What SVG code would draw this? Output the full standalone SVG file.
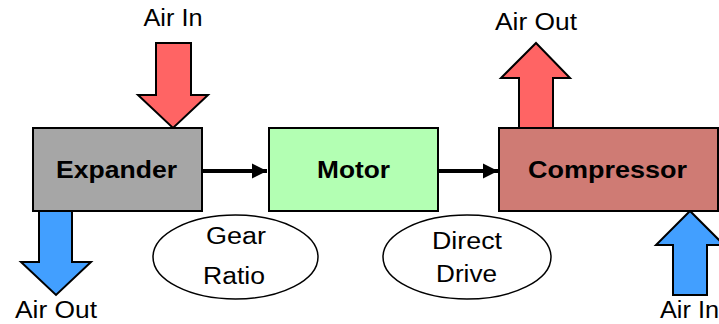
<svg xmlns="http://www.w3.org/2000/svg" width="719" height="324" viewBox="0 0 719 324">
<style>
.box{stroke:#000;stroke-width:2}
.flow{stroke:#000;stroke-width:2;stroke-linejoin:miter}
.hot{fill:#FF6464}
.cold{fill:#429FFF}
.lbl{font-family:"Liberation Sans",Arial,sans-serif;font-size:23.5px;fill:#000}
.bold{font-family:"Liberation Sans",Arial,sans-serif;font-size:24.5px;font-weight:bold;fill:#000}
.oval{fill:#fff;stroke:#000;stroke-width:1.5}
.conn{stroke:#000;stroke-width:4;fill:none}
</style>
<defs>
<marker id="ah" markerUnits="userSpaceOnUse" markerWidth="16" markerHeight="16" refX="15" refY="8" orient="auto">
<path d="M0,0.5 L15,8 L0,15.5 Z" fill="#000"/>
</marker>
</defs>
<rect width="719" height="324" fill="#fff"/>
<g id="connectors">
<line class="conn" x1="203" y1="171" x2="267" y2="171" marker-end="url(#ah)"/>
<line class="conn" x1="439" y1="171" x2="498" y2="171" marker-end="url(#ah)"/>
</g>
<g id="air-in-expander">
<polygon class="flow hot" points="156,43 191,43 191,95 208,95 173,128 138,95 156,95"/>
<text class="lbl" x="173" y="26" text-anchor="middle" textLength="59" lengthAdjust="spacingAndGlyphs">Air In</text>
</g>
<g id="air-out-expander">
<polygon class="flow cold" points="39,211 72,211 72,262 91,262 56,295 21,262 39,262"/>
<text class="lbl" x="56" y="318" text-anchor="middle" textLength="82" lengthAdjust="spacingAndGlyphs">Air Out</text>
</g>
<g id="air-out-compressor">
<polygon class="flow hot" points="519,128 553,128 553,78 570,78 536,43 501,78 519,78"/>
<text class="lbl" x="536" y="30" text-anchor="middle" textLength="82" lengthAdjust="spacingAndGlyphs">Air Out</text>
</g>
<g id="air-in-compressor">
<polygon class="flow cold" points="673,295 707,295 707,245 724,245 690,211 656,245 673,245"/>
<text class="lbl" x="660" y="318" textLength="59" lengthAdjust="spacingAndGlyphs">Air In</text>
</g>
<g id="expander">
<rect class="box" x="33" y="128" width="169" height="83" fill="#A6A6A6"/>
<text class="bold" x="116.5" y="178" text-anchor="middle" textLength="121" lengthAdjust="spacingAndGlyphs">Expander</text>
</g>
<g id="motor">
<rect class="box" x="269" y="128" width="169" height="83" fill="#B3FFB3"/>
<text class="bold" x="353.5" y="178" text-anchor="middle" textLength="73" lengthAdjust="spacingAndGlyphs">Motor</text>
</g>
<g id="compressor">
<rect class="box" x="499" y="128" width="219" height="83" fill="#CF7B74"/>
<text class="bold" x="607.5" y="178" text-anchor="middle" textLength="159" lengthAdjust="spacingAndGlyphs">Compressor</text>
</g>
<g id="gear-ratio">
<ellipse class="oval" cx="235.5" cy="257" rx="82.5" ry="42"/>
<text class="lbl" x="236" y="244" text-anchor="middle" textLength="60" lengthAdjust="spacingAndGlyphs">Gear</text>
<text class="lbl" x="234" y="284" text-anchor="middle" textLength="62" lengthAdjust="spacingAndGlyphs">Ratio</text>
</g>
<g id="direct-drive">
<ellipse class="oval" cx="467" cy="257" rx="84" ry="42"/>
<text class="lbl" x="467" y="249" text-anchor="middle" textLength="70" lengthAdjust="spacingAndGlyphs">Direct</text>
<text class="lbl" x="466.5" y="282" text-anchor="middle" textLength="61" lengthAdjust="spacingAndGlyphs">Drive</text>
</g>
</svg>
